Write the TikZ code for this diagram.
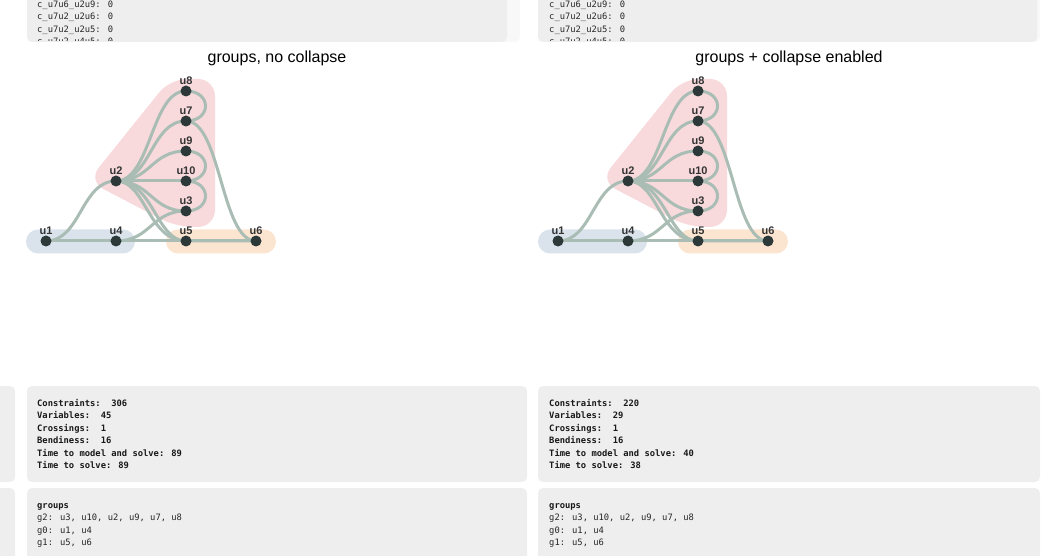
\documentclass[tikz,border=0pt]{standalone}
\usepackage{fontspec}
\setmainfont{Liberation Sans}
\newfontfamily\mymono{DejaVu Sans Mono}
\usetikzlibrary{backgrounds}
\definecolor{panelgray}{HTML}{EEEEEE}
\definecolor{stripc}{HTML}{F8F8F8}
\definecolor{edgec}{HTML}{A9BDB5}
\definecolor{nodec}{HTML}{2D3939}
\definecolor{labc}{HTML}{333333}
\definecolor{pinkh}{HTML}{F8DADD}
\definecolor{blueh}{HTML}{DAE3EC}
\definecolor{orangeh}{HTML}{FCE5D0}
\tikzset{
  vtx/.style={circle, fill=nodec, minimum size=11pt, inner sep=0pt, label distance=7.5pt},
  lbl/.style={font=\bfseries\fontsize{11}{11}\selectfont, text=labc, inner sep=0pt},
  edg/.style={draw=edgec, line width=3pt},
  mono/.style={font=\mymono\fontsize{8.8}{10}\selectfont, text=black!85, inner sep=0pt, anchor=base west},
  bmono/.style={font=\mymono\bfseries\fontsize{8.8}{10}\selectfont, text=black!90, inner sep=0pt, anchor=base west},
  panel/.style={fill=panelgray, rounded corners=5pt},
  ttl/.style={font=\fontsize{16}{16}\selectfont, inner sep=0pt, anchor=base},
}
\newcommand\mygraph[1]{%
  \begin{scope}[on background layer]
    \fill[blueh, rounded corners=12pt] (26,229.5) rectangle (135,253.5);
    \fill[orangeh, rounded corners=12pt] (166,229.5) rectangle (276,253.5);
    \fill[pinkh, rounded corners=17pt] (88,181) -- (170,79) -- (215,79) -- (215,227) -- (176,227) -- cycle;
  \end{scope}
  \node[vtx, label={[lbl]90:u1}] (#1u1) at (46,241) {};
  \node[vtx, label={[lbl]90:u4}] (#1u4) at (116,241) {};
  \node[vtx, label={[lbl]90:u2}] (#1u2) at (116,181) {};
  \node[vtx, label={[lbl]90:u8}] (#1u8) at (186,91) {};
  \node[vtx, label={[lbl]90:u7}] (#1u7) at (186,121) {};
  \node[vtx, label={[lbl]90:u9}] (#1u9) at (186,151) {};
  \node[vtx, label={[lbl]90:u10}] (#1u10) at (186,181) {};
  \node[vtx, label={[lbl]90:u3}] (#1u3) at (186,211) {};
  \node[vtx, label={[lbl]90:u5}] (#1u5) at (186,241) {};
  \node[vtx, label={[lbl]90:u6}] (#1u6) at (256,241) {};
  \begin{scope}[on background layer]
    \draw[edg] (#1u1.center) -- (#1u4.center);
    \draw[edg] (#1u4.center) -- (#1u5.center);
    \draw[edg] (#1u5.center) -- (#1u6.center);
    \draw[edg] (#1u1.center) .. controls +(35,0) and +(-35,0) .. (#1u2.center);
    \draw[edg] (#1u2.center) .. controls +(35,0) and +(-35,0) .. (#1u8.center);
    \draw[edg] (#1u2.center) .. controls +(35,0) and +(-35,0) .. (#1u7.center);
    \draw[edg] (#1u2.center) .. controls +(35,0) and +(-35,0) .. (#1u9.center);
    \draw[edg] (#1u2.center) -- (#1u10.center);
    \draw[edg] (#1u2.center) .. controls +(35,0) and +(-35,0) .. (#1u3.center);
    \draw[edg] (#1u2.center) .. controls +(30,0) and +(-38,0) .. (#1u5.center);
    \draw[edg] (#1u2.center) .. controls +(38,0) and +(-30,0) .. (#1u5.center) -- (#1u6.center);
    \draw[edg] (#1u4.center) .. controls +(35,0) and +(-35,0) .. (#1u3.center);
    \draw[edg] (#1u7.center) .. controls +(35,0) and +(-35,0) .. (#1u6.center);
    \draw[edg] (#1u8.center) .. controls +(26,0) and +(26,0) .. (#1u7.center);
    \draw[edg] (#1u9.center) .. controls +(26,0) and +(26,0) .. (#1u10.center);
    \draw[edg] (#1u10.center) .. controls +(26,0) and +(26,0) .. (#1u3.center);
  \end{scope}
}
\begin{document}
\begin{tikzpicture}[x=1pt, y=-1pt]
\useasboundingbox (0,0) rectangle (1055,556);
% top panels
\fill[stripc, rounded corners=5pt] (27,-10) rectangle (520,42);
\fill[panelgray, rounded corners=5pt] (27,-10) rectangle (507,42);
\fill[stripc, rounded corners=5pt] (538,-10) rectangle (1040,42);
\fill[panelgray, rounded corners=5pt] (538,-10) rectangle (1037,42);
\begin{scope}
  \clip (0,0) rectangle (1055,41);
  \node[mono] (tl1) at (37,7.5) {c\_u7u6\_u2u9: 0};
  \node[mono] (tl2) at (37,20) {c\_u7u2\_u2u6: 0};
  \node[mono] (tl3) at (37,32.5) {c\_u7u2\_u2u5: 0};
  \node[mono] (tl4) at (37,45) {c\_u7u2\_u4u5: 0};
  \node[mono] (tr1) at (549,7.5) {c\_u7u6\_u2u9: 0};
  \node[mono] (tr2) at (549,20) {c\_u7u2\_u2u6: 0};
  \node[mono] (tr3) at (549,32.5) {c\_u7u2\_u2u5: 0};
  \node[mono] (tr4) at (549,45) {c\_u7u2\_u4u5: 0};
\end{scope}
% titles
\node[ttl] (titleL) at (277,62.5) {groups, no collapse};
\node[ttl] (titleR) at (789,62.5) {groups + collapse enabled};
% graphs
\mygraph{L}
\begin{scope}[xshift=512pt]
\mygraph{R}
\end{scope}
% bottom panels
\fill[panel] (-10,386) rectangle (15,482);
\fill[panel] (-10,488) rectangle (15,570);
\fill[panel] (27,386) rectangle (527,482);
\fill[panel] (27,488) rectangle (527,570);
\fill[panel] (538,386) rectangle (1040,482);
\fill[panel] (538,488) rectangle (1040,570);
\node[bmono] (sl1) at (37,406) {Constraints:\ \ 306};
\node[bmono] (sl2) at (37,418.5) {Variables:\ \ 45};
\node[bmono] (sl3) at (37,431) {Crossings:\ \ 1};
\node[bmono] (sl4) at (37,443.5) {Bendiness:\ \ 16};
\node[bmono] (sl5) at (37,456) {Time to model and solve: 89};
\node[bmono] (sl6) at (37,468.5) {Time to solve: 89};
\node[bmono] (sr1) at (549,406) {Constraints:\ \ 220};
\node[bmono] (sr2) at (549,418.5) {Variables:\ \ 29};
\node[bmono] (sr3) at (549,431) {Crossings:\ \ 1};
\node[bmono] (sr4) at (549,443.5) {Bendiness:\ \ 16};
\node[bmono] (sr5) at (549,456) {Time to model and solve: 40};
\node[bmono] (sr6) at (549,468.5) {Time to solve: 38};
\node[bmono] (gl0) at (37,508) {groups};
\node[mono] (gl1) at (37,520.5) {g2: u3, u10, u2, u9, u7, u8};
\node[mono] (gl2) at (37,533) {g0: u1, u4};
\node[mono] (gl3) at (37,545.5) {g1: u5, u6};
\node[bmono] (gr0) at (549,508) {groups};
\node[mono] (gr1) at (549,520.5) {g2: u3, u10, u2, u9, u7, u8};
\node[mono] (gr2) at (549,533) {g0: u1, u4};
\node[mono] (gr3) at (549,545.5) {g1: u5, u6};
\end{tikzpicture}
\end{document}
